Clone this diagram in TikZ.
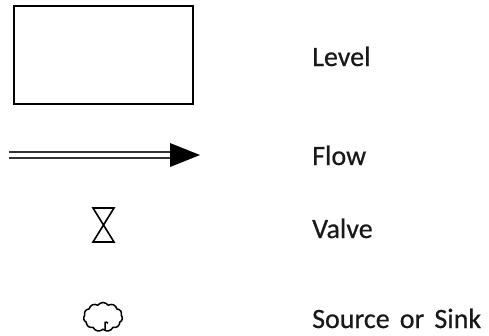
\documentclass[tikz,border=0pt]{standalone}
\usepackage{fontspec}
\setmainfont{Carlito}[WordSpace=1.6, FakeBold=0.6]
\usetikzlibrary{shapes.symbols}

\begin{document}
\begin{tikzpicture}[x=1pt,y=-1pt]
        \tikzset{levelbox/.style={draw, line width=2pt, minimum width=179pt, minimum height=98pt},
                 sinkcloud/.style={draw, cloud, cloud puffs=11, cloud puff arc=110, aspect=1.4, line width=1.5pt, minimum width=39pt, minimum height=29pt, inner sep=0pt},
                 legend/.style={anchor=base west, inner sep=0pt, text=black!90, font=\fontsize{28}{33}\selectfont}}
        \useasboundingbox (0,0) rectangle (489,335);
        % symbols
        \node [levelbox] (level) at (103.5,55) {};
        \coordinate (fs) at (9,155);
        \coordinate (fe) at (172,155);
        \coordinate (tip) at (200,155);
        \coordinate (valve) at (103.5,225);
        \node [sinkcloud] (sink) at (103,317) {};
        \draw [black!80, line width=2pt] ([yshift=-3pt]fs) -- ([yshift=-3pt]fe);
        \draw [black!80, line width=2pt] ([yshift=3pt]fs) -- ([yshift=3pt]fe);
        \fill (tip) -- ++(-30,-12) -- ++(0,24) -- cycle;
        \draw [line width=1.6pt, line join=miter] (valve) ++(-10.5,-17) -- ++(21,0) -- ++(-21,34) -- ++(21,0) -- cycle;
        \draw [line width=1.5pt] ([xshift=2pt]sink.south) -- ++(0,-8) to[bend left=40] ++(3,1);
        % labels
        \node [legend] (levellabel) at (312,66)  {Level};
        \node [legend] (flowlabel)  at (312,165) {Flow};
        \node [legend] (valvelabel) at (312,238) {Valve};
        \node [legend] (sinklabel)  at (312,328) {Source or Sink};
    \end{tikzpicture}
\end{document}
